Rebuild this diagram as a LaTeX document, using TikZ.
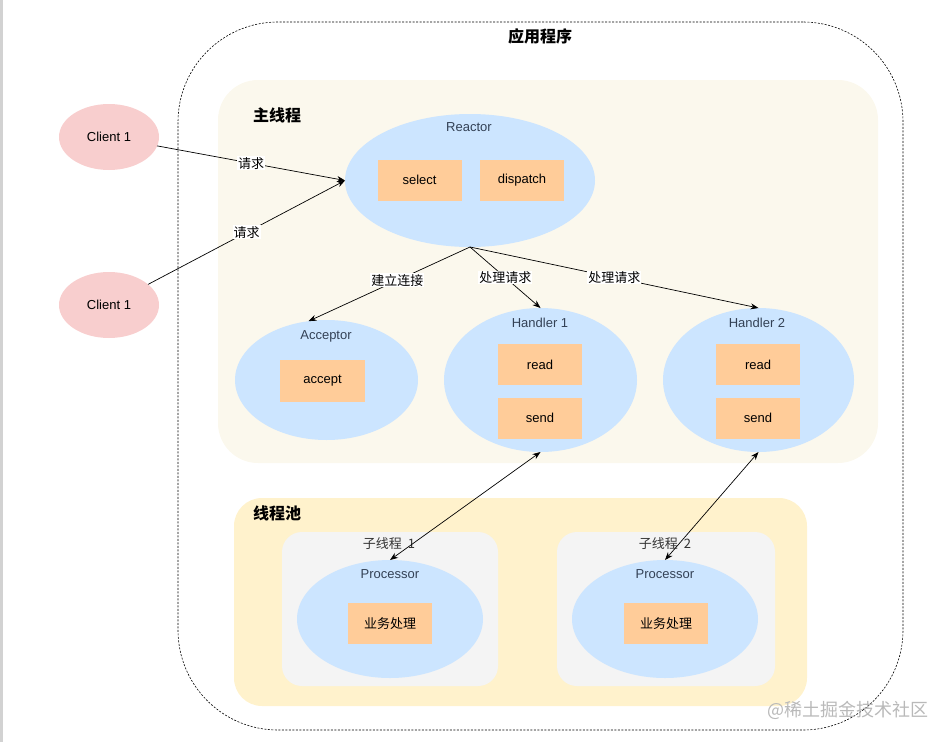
\documentclass[tikz,border=0pt]{standalone}
\usepackage{fontspec}
\setmainfont{Liberation Sans}
\newfontfamily\cjk{Noto Sans CJK SC}
\usepackage{tikz}
\usetikzlibrary{shapes,arrows.meta,positioning}
\usepackage{xcolor}
\definecolor{maincream}{RGB}{251,248,237}
\definecolor{poolyellow}{RGB}{255,242,204}
\definecolor{subgray}{RGB}{244,244,244}
\definecolor{blobblue}{RGB}{204,229,255}
\definecolor{boxorange}{RGB}{255,204,153}
\definecolor{clientpink}{RGB}{248,206,206}
\definecolor{tagslate}{RGB}{51,65,85}

\begin{document}
\begin{tikzpicture}[x=1pt, y=-1pt,
    panel/.style={rectangle, inner sep=0pt, outer sep=0pt},
    blob/.style={ellipse, fill=blobblue, inner sep=0pt, outer sep=0pt},
    box/.style={rectangle, fill=boxorange, minimum width=84pt, minimum height=41pt, inner sep=0pt, font=\fontsize{13}{15}\selectfont},
    tag/.style={text=tagslate, font=\fontsize{13}{15}\selectfont},
    title/.style={font=\fontsize{16}{18}\selectfont\cjk\bfseries},
    req/.style={fill=white, inner sep=1pt, font=\fontsize{13}{15}\selectfont\cjk},
    conn/.style={line width=0.7pt, -{Stealth[length=8pt, width=6pt]}},
    both/.style={line width=0.7pt, {Stealth[length=8pt, width=6pt]}-{Stealth[length=8pt, width=6pt]}},
]
    \useasboundingbox (0,0) rectangle (950,742);
    \fill[gray!35] (0,0) rectangle (3,742);

    % Application frame
    \node[panel, draw, line width=0.6pt, dash pattern=on 2pt off 1.5pt, rounded corners=100pt, minimum width=725pt, minimum height=708pt] (app) at (540.5,376) {};
    \node[title] (apptitle) at (540,36) {应用程序};

    % Main thread
    \node[panel, fill=maincream, rounded corners=40pt, minimum width=660pt, minimum height=383pt] (mainpanel) at (548,271.5) {};
    \node[title] (maintitle) at (277,115) {主线程};

    % Thread pool
    \node[panel, fill=poolyellow, rounded corners=28pt, minimum width=573pt, minimum height=208pt] (pool) at (520.5,602) {};
    \node[title] (pooltitle) at (277,513) {线程池};
    \node[panel, fill=subgray, rounded corners=20pt, minimum width=216pt, minimum height=154pt] (subA) at (390,609) {};
    \node[panel, fill=subgray, rounded corners=20pt, minimum width=218pt, minimum height=154pt] (subB) at (666,609) {};
    \node[tag, text=black!80, font=\fontsize{13}{15}\selectfont\cjk] (subAtitle) at (389,544) {子线程\ \ 1};
    \node[tag, text=black!80, font=\fontsize{13}{15}\selectfont\cjk] (subBtitle) at (665,544) {子线程\ \ 2};

    % Clients
    \node[blob, fill=clientpink, minimum width=100pt, minimum height=66pt, font=\fontsize{13}{15}\selectfont] (clientA) at (109,137) {Client 1};
    \node[blob, fill=clientpink, minimum width=100pt, minimum height=66pt, font=\fontsize{13}{15}\selectfont] (clientB) at (109,305) {Client 1};

    % Reactor
    \node[blob, minimum width=250pt, minimum height=133pt] (reactor) at (470,180.5) {};
    \node[tag] (reactorlbl) at (469,127) {Reactor};
    \node[box] (select) at (419.5,180) {select};
    \node[box] (dispatch) at (522,180) {dispatch};

    % Acceptor and handlers
    \node[blob, minimum width=183pt, minimum height=120pt] (acceptor) at (326.5,380) {};
    \node[tag] (acceptorlbl) at (326,336) {Acceptor};
    \node[box, minimum width=85pt, minimum height=42pt] (accept) at (322.5,381) {accept};

    \node[blob, minimum width=193pt, minimum height=144pt] (handlerA) at (540.5,380) {};
    \node[tag] (handlerAlbl) at (540,323) {Handler 1};
    \node[box] (readA) at (540,364.5) {read};
    \node[box] (sendA) at (540,418) {send};

    \node[blob, minimum width=191pt, minimum height=144pt] (handlerB) at (758.5,380) {};
    \node[tag] (handlerBlbl) at (757,323) {Handler 2};
    \node[box] (readB) at (758,364.5) {read};
    \node[box] (sendB) at (758,418) {send};

    % Processors
    \node[blob, minimum width=186pt, minimum height=118pt] (procA) at (390,619) {};
    \node[tag] (procAlbl) at (390,574) {Processor};
    \node[box, font=\fontsize{13}{15}\selectfont\cjk] (bizA) at (390,623.5) {业务处理};

    \node[blob, minimum width=186pt, minimum height=118pt] (procB) at (665,619) {};
    \node[tag] (procBlbl) at (665,574) {Processor};
    \node[box, font=\fontsize{13}{15}\selectfont\cjk] (bizB) at (666,623.5) {业务处理};

    % Arrows
    \draw[conn] (clientA) -- node[req, pos=0.5] {请求} (reactor.west);
    \draw[conn] (clientB) -- node[req, pos=0.5] {请求} (reactor.west);
    \draw[conn] (reactor.south) -- node[req, pos=0.45] {建立连接} (acceptor.107);
    \draw[conn] (reactor.south) -- node[req, pos=0.5] {处理请求} (handlerA.north);
    \draw[conn] (reactor.south) -- node[req, pos=0.5] {处理请求} (handlerB.north);
    \draw[both] (handlerA.south) -- (procA.north);
    \draw[both] (handlerB.south) -- (procB.north);

    % Watermark
    \node[text=gray!55, font=\fontsize{18}{20}\selectfont\cjk] (mark) at (848,710) {@稀土掘金技术社区};
\end{tikzpicture}
\end{document}
